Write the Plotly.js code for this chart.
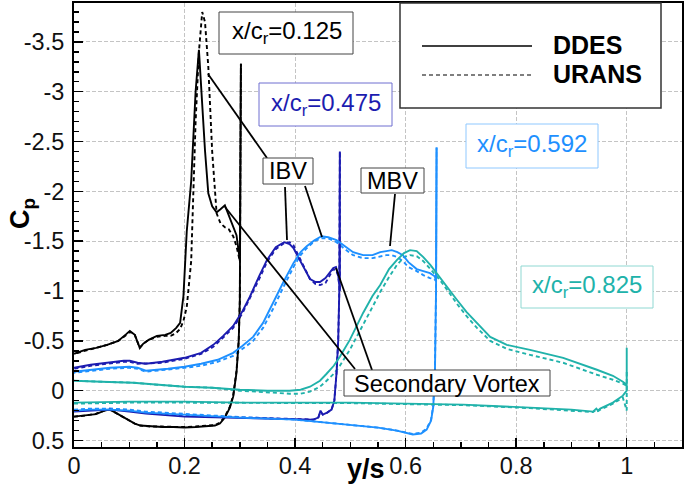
<!DOCTYPE html>
<html>
<head>
<meta charset="utf-8">
<script src="https://cdn.plot.ly/plotly-3.0.1.min.js"></script>
<style>html,body{margin:0;padding:0;background:#fff;}#chart{width:685px;height:487px;}</style>
</head>
<body>
<div id="chart"></div>
<script>
// ---------- DATA ----------
// Station x/c_r = 0.125 (black)
const ys125U = [0, 0.02, 0.04, 0.06, 0.08, 0.095, 0.101, 0.11, 0.119, 0.125, 0.135, 0.15, 0.165, 0.175, 0.185, 0.192, 0.198, 0.204, 0.212, 0.22, 0.226, 0.232, 0.237, 0.243, 0.25, 0.258, 0.265, 0.273, 0.28, 0.288, 0.294, 0.3];
const cp125U_DDES  = [-0.37, -0.41, -0.43, -0.46, -0.5, -0.57, -0.6, -0.56, -0.43, -0.47, -0.51, -0.55, -0.56, -0.58, -0.63, -0.68, -0.95, -1.6, -2.1, -3.0, -3.42, -2.85, -2.41, -1.98, -1.85, -1.79, -1.82, -1.86, -1.76, -1.64, -1.56, -1.31];
const cp125U_URANS = [-0.37, -0.4, -0.43, -0.46, -0.5, -0.56, -0.59, -0.56, -0.43, -0.47, -0.51, -0.54, -0.55, -0.55, -0.58, -0.62, -0.7, -0.84, -1.3, -2.7, -3.4, -3.8, -3.7, -3.25, -2.4, -1.78, -1.68, -1.64, -1.62, -1.55, -1.45, -1.3];
const ys125L = [0, 0.02, 0.04, 0.055, 0.065, 0.075, 0.09, 0.1, 0.11, 0.12, 0.14, 0.16, 0.18, 0.2, 0.22, 0.24, 0.255, 0.264, 0.273, 0.282, 0.288, 0.294, 0.298, 0.3];
const cp125L_DDES  = [0.26, 0.25, 0.235, 0.2, 0.19, 0.22, 0.27, 0.3, 0.33, 0.35, 0.36, 0.365, 0.365, 0.37, 0.365, 0.36, 0.35, 0.33, 0.27, 0.17, 0.06, -0.18, -0.5, -0.9];
const cp125L_URANS = [0.26, 0.25, 0.23, 0.2, 0.19, 0.22, 0.27, 0.3, 0.33, 0.35, 0.36, 0.36, 0.365, 0.365, 0.36, 0.355, 0.345, 0.32, 0.26, 0.16, 0.05, -0.2, -0.5, -0.9];
const le125 = 0.302, spike125_DDES = -3.28, spike125_URANS = -3.28;

// Station x/c_r = 0.475 (dark blue)
const ys475U = [0, 0.03, 0.06, 0.09, 0.101, 0.115, 0.13, 0.16, 0.2, 0.23, 0.252, 0.27, 0.288, 0.305, 0.318, 0.335, 0.349, 0.365, 0.38, 0.39, 0.397, 0.406, 0.415, 0.427, 0.437, 0.445, 0.455, 0.463, 0.469, 0.474, 0.478, 0.481];
const cp475U_DDES  = [-0.23, -0.26, -0.28, -0.3, -0.3, -0.28, -0.27, -0.29, -0.33, -0.38, -0.46, -0.55, -0.65, -0.8, -0.94, -1.15, -1.31, -1.44, -1.49, -1.47, -1.43, -1.34, -1.24, -1.12, -1.09, -1.09, -1.13, -1.19, -1.23, -1.24, -1.16, -1.0];
const cp475U_URANS = [-0.22, -0.25, -0.27, -0.29, -0.29, -0.27, -0.27, -0.28, -0.32, -0.37, -0.44, -0.53, -0.63, -0.78, -0.92, -1.12, -1.29, -1.42, -1.48, -1.49, -1.46, -1.37, -1.26, -1.12, -1.07, -1.06, -1.08, -1.16, -1.22, -1.21, -1.15, -1.0];
const ys475L = [0, 0.03, 0.065, 0.1, 0.13, 0.2, 0.28, 0.35, 0.4, 0.433, 0.442, 0.446, 0.45, 0.458, 0.466, 0.471, 0.475, 0.478, 0.48];
const cp475L_DDES  = [0.21, 0.2, 0.19, 0.21, 0.23, 0.26, 0.27, 0.28, 0.29, 0.29, 0.27, 0.2, 0.24, 0.22, 0.19, 0.1, -0.18, -0.5, -1.0];
const cp475L_URANS = [0.2, 0.19, 0.18, 0.2, 0.22, 0.25, 0.265, 0.275, 0.285, 0.29, 0.27, 0.21, 0.24, 0.22, 0.19, 0.1, -0.18, -0.5, -1.0];
const le475 = 0.481, spike475_DDES = -2.4, spike475_URANS = -2.4;

// Station x/c_r = 0.592 (light blue)
const ys592U = [0, 0.03, 0.065, 0.1, 0.115, 0.13, 0.17, 0.2, 0.23, 0.26, 0.288, 0.305, 0.324, 0.342, 0.36, 0.378, 0.397, 0.41, 0.421, 0.435, 0.448, 0.46, 0.475, 0.49, 0.505, 0.523, 0.54, 0.554, 0.565, 0.575, 0.585, 0.595, 0.605, 0.62, 0.632, 0.644, 0.652, 0.655];
const cp592U_DDES  = [-0.19, -0.21, -0.23, -0.24, -0.23, -0.2, -0.22, -0.24, -0.27, -0.31, -0.38, -0.45, -0.54, -0.68, -0.88, -1.08, -1.28, -1.39, -1.45, -1.51, -1.55, -1.54, -1.51, -1.45, -1.39, -1.36, -1.36, -1.39, -1.4, -1.41, -1.39, -1.36, -1.29, -1.22, -1.2, -1.18, -1.15, -1.12];
const cp592U_URANS = [-0.18, -0.2, -0.22, -0.23, -0.22, -0.19, -0.21, -0.23, -0.25, -0.29, -0.35, -0.42, -0.5, -0.63, -0.82, -1.03, -1.24, -1.36, -1.43, -1.5, -1.53, -1.53, -1.49, -1.42, -1.36, -1.33, -1.33, -1.35, -1.36, -1.36, -1.34, -1.3, -1.24, -1.2, -1.16, -1.13, -1.12, -1.1];
const ys592L = [0, 0.03, 0.065, 0.1, 0.13, 0.2, 0.3, 0.4, 0.5, 0.55, 0.584, 0.613, 0.628, 0.638, 0.646, 0.65, 0.653, 0.655];
const cp592L_DDES  = [0.2, 0.19, 0.19, 0.2, 0.22, 0.24, 0.27, 0.29, 0.34, 0.37, 0.4, 0.44, 0.43, 0.39, 0.3, 0.16, -0.18, -1.0];
const cp592L_URANS = [0.19, 0.18, 0.18, 0.19, 0.21, 0.235, 0.265, 0.29, 0.34, 0.37, 0.4, 0.435, 0.42, 0.38, 0.29, 0.15, -0.2, -1.0];
const le592 = 0.656, spike592_DDES = -2.44, spike592_URANS = -2.44;

// Station x/c_r = 0.825 (teal)
const ys825U = [0, 0.05, 0.107, 0.15, 0.2, 0.25, 0.3, 0.35, 0.39, 0.41, 0.427, 0.445, 0.457, 0.47, 0.481, 0.499, 0.51, 0.523, 0.54, 0.554, 0.57, 0.584, 0.597, 0.608, 0.62, 0.632, 0.645, 0.662, 0.678, 0.693, 0.71, 0.729, 0.753, 0.783, 0.825, 0.885, 0.946, 0.975, 0.993, 1.0];
const cp825U_DDES  = [-0.1, -0.09, -0.08, -0.06, -0.04, -0.03, -0.01, 0.0, 0.0, -0.01, -0.04, -0.1, -0.17, -0.25, -0.34, -0.51, -0.64, -0.78, -0.95, -1.06, -1.22, -1.31, -1.38, -1.41, -1.4, -1.34, -1.26, -1.14, -1.02, -0.91, -0.79, -0.68, -0.54, -0.46, -0.41, -0.33, -0.21, -0.15, -0.09, -0.06];
const cp825U_URANS = [-0.1, -0.09, -0.08, -0.06, -0.04, -0.03, 0.0, 0.02, 0.03, 0.03, 0.01, -0.04, -0.1, -0.17, -0.25, -0.41, -0.52, -0.66, -0.84, -0.99, -1.14, -1.26, -1.34, -1.36, -1.35, -1.3, -1.22, -1.11, -0.99, -0.87, -0.75, -0.63, -0.5, -0.42, -0.36, -0.28, -0.16, -0.11, -0.07, -0.05];
const ys825L = [0, 0.1, 0.2, 0.3, 0.4, 0.5, 0.6, 0.704, 0.825, 0.9, 0.939, 0.945, 0.948, 0.952, 0.975, 0.993, 1.0];
const cp825L_DDES  = [0.12, 0.11, 0.11, 0.12, 0.12, 0.12, 0.13, 0.14, 0.17, 0.19, 0.21, 0.18, 0.2, 0.18, 0.12, 0.05, 0.0];
const cp825L_URANS = [0.13, 0.12, 0.12, 0.12, 0.125, 0.125, 0.135, 0.145, 0.175, 0.2, 0.215, 0.19, 0.205, 0.19, 0.13, 0.07, 0.2];
const le825 = 1.0, spike825_DDES = -0.43, spike825_URANS = -0.2;

const stationLabels = ["x/c<sub>r</sub>=0.125", "x/c<sub>r</sub>=0.475", "x/c<sub>r</sub>=0.592", "x/c<sub>r</sub>=0.825"];
const methodLabels = ["DDES", "URANS"];
const vortexLabels = ["IBV", "MBV", "Secondary Vortex"];
const xTickVals = [0, 0.2, 0.4, 0.6, 0.8, 1];
const xTickText = ["0", "0.2", "0.4", "0.6", "0.8", "1"];
const yTickVals = [0.5, 0, -0.5, -1, -1.5, -2, -2.5, -3, -3.5];
const yTickText = ["0.5", "0", "-0.5", "-1", "-1.5", "-2", "-2.5", "-3", "-3.5"];

// ---------- BUILD ----------
const FONT = "Liberation Sans, Arial, sans-serif";
const colors = ["#000000", "#1c1cb0", "#1e90ff", "#20b2aa"];
const boxBorders = ["#444444", "#6f6fd0", "#8fc8ff", "#8fd8d2"];

function loop(ysL, cpL, le, spike, ysU, cpU) {
  const x = ysL.slice(), y = cpL.slice();
  x.push(le); y.push(spike);
  for (let i = ysU.length - 1; i >= 0; i--) { x.push(ysU[i]); y.push(cpU[i]); }
  return {x, y};
}
const stations = [
  [ys125L, cp125L_DDES, cp125L_URANS, le125, spike125_DDES, spike125_URANS, ys125U, cp125U_DDES, cp125U_URANS],
  [ys475L, cp475L_DDES, cp475L_URANS, le475, spike475_DDES, spike475_URANS, ys475U, cp475U_DDES, cp475U_URANS],
  [ys592L, cp592L_DDES, cp592L_URANS, le592, spike592_DDES, spike592_URANS, ys592U, cp592U_DDES, cp592U_URANS],
  [ys825L, cp825L_DDES, cp825L_URANS, le825, spike825_DDES, spike825_URANS, ys825U, cp825U_DDES, cp825U_URANS]
];
const traces = [];
stations.forEach((s, i) => {
  const u = loop(s[0], s[2], s[3], s[5], s[6], s[8]);
  traces.push({x: u.x, y: u.y, mode: "lines", name: stationLabels[i] + " " + methodLabels[1], showlegend: false,
    line: {color: colors[i], width: 1.9, dash: "4px,3px"}, hoverinfo: "skip"});
});
stations.forEach((s, i) => {
  const d = loop(s[0], s[1], s[3], s[4], s[6], s[7]);
  traces.push({x: d.x, y: d.y, mode: "lines", name: stationLabels[i] + " " + methodLabels[0], showlegend: false,
    line: {color: colors[i], width: 1.9}, hoverinfo: "skip"});
});

// pixel -> paper helpers (plot area 74..682 x 3..447)
const L = 74, R = 682, T = 3, B = 447;
const px = v => (v - L) / (R - L);
const py = v => (B - v) / (B - T);

const shapes = [];
const annotations = [];
function seg(x0, y0, x1, y1, dash, w) {
  shapes.push({type: "line", xref: "paper", yref: "paper", x0: px(x0), y0: py(y0), x1: px(x1), y1: py(y1),
    line: {color: "#000", width: w || 1.8, dash: dash || "solid"}});
}
function rect(x0, y0, x1, y1, border, w) {
  shapes.push({type: "rect", xref: "paper", yref: "paper", x0: px(x0), y0: py(y1), x1: px(x1), y1: py(y0),
    line: {color: border, width: w || 1}, fillcolor: "white"});
}
function label(text, cx, cy, color, size, anchor, bold) {
  annotations.push({text: bold ? "<b>" + text + "</b>" : text, xref: "paper", yref: "paper", x: px(cx), y: py(cy),
    xanchor: anchor || "center", yanchor: "middle", showarrow: false,
    font: {family: FONT, size: size, color: color}});
}
// leader lines (drawn first, boxes cover their ends)
seg(208, 74, 267, 158);
seg(285, 187, 287, 240);
seg(305, 186, 322, 237);
seg(395, 194, 390, 246);
seg(225, 207, 355, 369);
seg(336, 268, 372, 370);
// station label boxes
rect(219, 12, 353, 54, boxBorders[0]);   label(stationLabels[0], 286.5, 33, colors[0], 24);
rect(259, 83, 392, 126, boxBorders[1]);  label(stationLabels[1], 325.5, 104, colors[1], 24);
rect(466, 124, 598, 168, boxBorders[2]); label(stationLabels[2], 532, 145.5, colors[2], 24);
rect(521, 266, 653, 308, boxBorders[3]); label(stationLabels[3], 587, 286.5, colors[3], 24);
rect(263, 158, 313, 184, "#444");        label(vortexLabels[0], 288, 171.5, "#000", 23.5);
rect(361, 168, 424, 193, "#444");        label(vortexLabels[1], 392.5, 181, "#000", 23.5);
rect(344, 370, 550, 396, "#444");        label(vortexLabels[2], 447, 383.5, "#000", 23.5);
// legend
rect(400, 3, 661, 108, "#333", 1.5);
seg(422, 46, 532, 46, "solid", 1.5);
seg(422, 75, 532, 75, "4px,3px", 1.2);
label(methodLabels[0], 551, 45.5, "#000", 25, "left", true);
label(methodLabels[1], 551, 74.5, "#000", 25, "left", true);
// axis titles
annotations.push({text: "<b>C<sub>p</sub></b>", xref: "paper", yref: "paper", x: px(22), y: py(214),
  xanchor: "center", yanchor: "middle", textangle: -90, showarrow: false, font: {family: FONT, size: 27, color: "#000"}});
label("y/s", 366, 469, "#000", 27, "center", true);

const axisCommon = {
  showline: true, linecolor: "#000", linewidth: 2, mirror: true,
  ticks: "inside", ticklen: 9, tickwidth: 1.5, tickcolor: "#000",
  showgrid: true, gridcolor: "#c4c4c4", gridwidth: 1, griddash: "4px,2px",
  zeroline: false, tickfont: {family: FONT, size: 23.5, color: "#111"}, fixedrange: true
};
const layout = {
  width: 685, height: 487,
  margin: {l: L, r: 685 - R, t: T, b: 487 - B, pad: 0},
  paper_bgcolor: "white", plot_bgcolor: "white",
  showlegend: false,
  xaxis: Object.assign({}, axisCommon, {range: [0, 1.1], autorange: false, tickmode: "array",
    tickvals: xTickVals, ticktext: xTickText, ticklabelstandoff: -3,
    minor: {tickmode: "linear", tick0: 0, dtick: 0.05, ticks: "inside", ticklen: 5, tickcolor: "#000", showgrid: false}}),
  yaxis: Object.assign({}, axisCommon, {range: [0.565, -3.89], autorange: false, tickmode: "array",
    tickvals: yTickVals, ticktext: yTickText, ticklabelstandoff: 3,
    minor: {tickmode: "linear", tick0: 0, dtick: 0.1, ticks: "inside", ticklen: 5, tickcolor: "#000", showgrid: false}}),
  shapes, annotations
};
Plotly.newPlot("chart", traces, layout, {displayModeBar: false, staticPlot: true});
</script>
</body>
</html>
